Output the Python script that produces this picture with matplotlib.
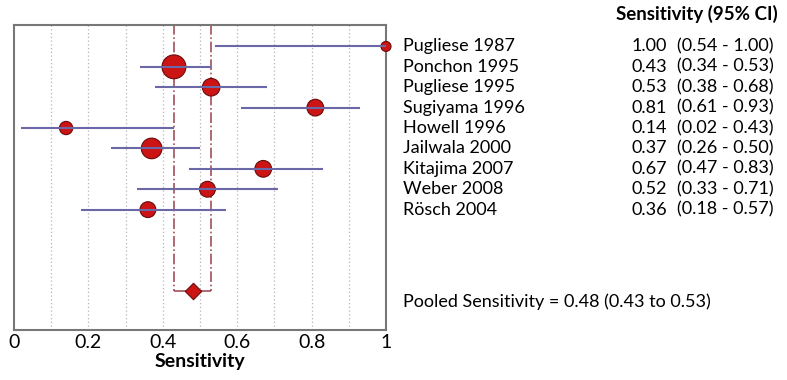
import matplotlib.pyplot as plt
from matplotlib.transforms import blended_transform_factory

studies = ['Pugliese 1987', 'Ponchon 1995', 'Pugliese 1995', 'Sugiyama 1996',
           'Howell 1996', 'Jailwala 2000', 'Kitajima 2007', 'Weber 2008', 'Rösch 2004']
sens = [1.00, 0.43, 0.53, 0.81, 0.14, 0.37, 0.67, 0.52, 0.36]
lo = [0.54, 0.34, 0.38, 0.61, 0.02, 0.26, 0.47, 0.33, 0.18]
hi = [1.00, 0.53, 0.68, 0.93, 0.43, 0.50, 0.83, 0.71, 0.57]
weight = [9, 90, 45, 40, 22, 65, 40, 35, 35]  # relative study weight (marker area)

pooled = 0.48
pooled_lo = 0.43
pooled_hi = 0.53

plt.rcParams['font.family'] = ['Lato', 'DejaVu Sans']

fig = plt.figure(figsize=(7.87, 3.80), dpi=100)
ax = fig.add_axes([14 / 787, 50 / 380, 372 / 787, 305 / 380])

rows = list(range(len(studies)))
pooled_row = 12

# reference grid
for g in [0.1, 0.2, 0.3, 0.4, 0.5, 0.6, 0.7, 0.8, 0.9]:
    ax.axvline(g, color='#bfb0b8', lw=0.9, ls=(0, (1, 2)), zorder=0)

# pooled CI lines
ax.vlines([pooled_lo, pooled_hi], -1.1, pooled_row, color='#a0505a', lw=1.2,
          ls='-.', zorder=1)
ax.hlines(pooled_row, pooled_lo, pooled_hi, color='#a0505a', lw=1.2, zorder=1)

sizes = [w * 3.0 + 25 for w in weight]
ax.scatter(sens, rows, s=sizes, color='#cc1414', edgecolor='#6a0a0a', lw=0.8,
           zorder=5, clip_on=False)
ax.hlines(rows, lo, hi, color='#6b68a8', lw=1.5, zorder=6)
ax.scatter([pooled], [pooled_row], marker='D', s=70, color='#cc1414',
           edgecolor='#6a0a0a', lw=0.8, zorder=6)

ax.set_xlim(0, 1)
ax.set_ylim(13.9, -1.05)
ax.set_yticks([])
ax.set_xticks([0, 0.2, 0.4, 0.6, 0.8, 1])
ax.set_xticklabels(['0', '0.2', '0.4', '0.6', '0.8', '1'], fontsize=14)
ax.tick_params(axis='x', length=0, pad=3)
ax.set_xlabel('Sensitivity', fontsize=14, fontweight='bold', labelpad=1)
for sp in ax.spines.values():
    sp.set_color('#777777')
    sp.set_linewidth(1.5)

tr = blended_transform_factory(fig.transFigure, ax.transData)
fs = 13
for i, name in enumerate(studies):
    ax.text(403 / 787, i, name, transform=tr, fontsize=fs, va='center', ha='left')
    ax.text(667 / 787, i, f'{sens[i]:.2f}', transform=tr, fontsize=fs, va='center', ha='right')
    ax.text(677 / 787, i, f'({lo[i]:.2f} - {hi[i]:.2f})', transform=tr, fontsize=fs,
            va='center', ha='left')

fig.text(778 / 787, 1 - 14 / 380, 'Sensitivity (95% CI)', fontsize=13.5, fontweight='bold',
         ha='right', va='center')
fig.text(403 / 787, 1 - 302 / 380,
         f'Pooled Sensitivity = {pooled:.2f} ({pooled_lo:.2f} to {pooled_hi:.2f})',
         fontsize=fs, ha='left', va='center')

fig.savefig('out.png', dpi=100)
